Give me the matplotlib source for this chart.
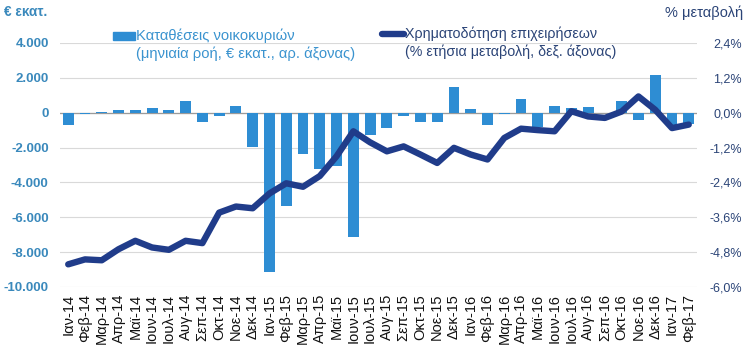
import matplotlib
matplotlib.use("Agg")
import matplotlib.pyplot as plt
from matplotlib.lines import Line2D
from matplotlib.patches import Rectangle
from matplotlib.ticker import FuncFormatter, FixedLocator

plt.rcParams['font.family'] = ['Liberation Sans', 'DejaVu Sans']

months = ["Ιαν-14", "Φεβ-14", "Μαρ-14", "Απρ-14", "Μαϊ-14", "Ιουν-14", "Ιουλ-14", "Αυγ-14",
          "Σεπ-14", "Οκτ-14", "Νοε-14", "Δεκ-14", "Ιαν-15", "Φεβ-15", "Μαρ-15", "Απρ-15",
          "Μαϊ-15", "Ιουν-15", "Ιουλ-15", "Αυγ-15", "Σεπ-15", "Οκτ-15", "Νοε-15", "Δεκ-15",
          "Ιαν-16", "Φεβ-16", "Μαρ-16", "Απρ-16", "Μαϊ-16", "Ιουν-16", "Ιουλ-16", "Αυγ-16",
          "Σεπ-16", "Οκτ-16", "Νοε-16", "Δεκ-16", "Ιαν-17", "Φεβ-17"]

deposits = [-690, -100, 20, 150, 130, 250, 150, 650,
            -550, -200, 400, -1980, -9150, -5380, -2380, -3250,
            -3050, -7150, -1300, -880, -170, -530, -530, 1450,
            210, -700, -50, 780, -840, 360, 270, 300,
            0, 650, -440, 2150, -690, -630]

loans = [-5.22, -5.05, -5.08, -4.70, -4.41, -4.64, -4.72, -4.41,
         -4.49, -3.44, -3.23, -3.29, -2.78, -2.43, -2.55, -2.18,
         -1.50, -0.64, -1.02, -1.33, -1.16, -1.44, -1.73, -1.21,
         -1.44, -1.61, -0.87, -0.55, -0.60, -0.64, 0.05, -0.13,
         -0.18, 0.04, 0.56, 0.10, -0.53, -0.41]

left_ticks = [-10000, -8000, -6000, -4000, -2000, 0, 2000, 4000]
right_ticks = [-6.0, -4.8, -3.6, -2.4, -1.2, 0.0, 1.2, 2.4]

bar_color = "#2E8DD3"
line_color = "#203C8A"
left_txt = "#3A89BC"
right_txt = "#2B4477"

fig = plt.figure(figsize=(7.48, 3.54), dpi=100)
ax = fig.add_axes([0.080, 0.1893, 0.852, 0.6893])
ax2 = ax.twinx()

x = list(range(len(months)))
ax.bar(x, deposits, width=0.65, color=bar_color, zorder=2)
ax.set_ylim(-10000, 4000)
ax.set_xlim(-0.5, len(months) - 0.5)
ax.yaxis.set_major_locator(FixedLocator(left_ticks))
ax.yaxis.set_major_formatter(FuncFormatter(lambda v, p: f"{int(v):,}".replace(",", ".")))
ax.grid(axis='y', color="#D9D9D9", linewidth=0.8, zorder=0)
ax.set_axisbelow(True)
ax.axhline(0, color="#9A9A9A", linewidth=0.9, zorder=1)

ax2.plot(x, loans, color=line_color, linewidth=4.6, solid_joinstyle='round',
         solid_capstyle='round', zorder=3)
ax2.set_ylim(-6.0, 2.4)
ax2.yaxis.set_major_locator(FixedLocator(right_ticks))
ax2.yaxis.set_major_formatter(FuncFormatter(lambda v, p: f"{v:.1f}%".replace(".", ",")))

for a in (ax, ax2):
    for s in a.spines.values():
        s.set_visible(False)
    a.tick_params(length=0)

ax.set_xticks(x)
ax.set_xticklabels(months, rotation=90, fontsize=10.5, color="#111111")
ax.tick_params(axis='x', pad=5)
ax.tick_params(axis='y', labelsize=9.5, labelcolor=left_txt, pad=8)
for t in ax.get_yticklabels():
    t.set_fontweight('bold')
ax2.tick_params(axis='y', labelsize=9, labelcolor=right_txt, pad=32.4)
for t in ax2.get_yticklabels():
    t.set_horizontalalignment('right')

fig.text(0.006, 0.965, "€ εκατ.", fontsize=9.8, fontweight='bold', color=left_txt,
         ha='left', va='center')
fig.text(0.993, 0.965, "% μεταβολή", fontsize=10.5, color=right_txt,
         ha='right', va='center')

# legend (manual)
fig.patches.append(Rectangle((113 / 748, 1 - 40 / 354), 22 / 748, 8 / 354,
                             transform=fig.transFigure, color=bar_color))
fig.text(136 / 748, 1 - 36 / 354, "Καταθέσεις νοικοκυριών", fontsize=10.6,
         color="#3A93CF", ha='left', va='center')
fig.text(136 / 748, 1 - 54 / 354, "(μηνιαία ροή, € εκατ., αρ. άξονας)", fontsize=10.6,
         color="#3A93CF", ha='left', va='center')

fig.lines.append(Line2D([382 / 748, 404 / 748], [1 - 34 / 354, 1 - 34 / 354],
                        transform=fig.transFigure, color=line_color, linewidth=4.6,
                        solid_capstyle='round'))
fig.text(405 / 748, 1 - 34 / 354, "Χρηματοδότηση επιχειρήσεων", fontsize=10.3,
         color=right_txt, ha='left', va='center')
fig.text(405 / 748, 1 - 52 / 354, "(% ετήσια μεταβολή, δεξ. άξονας)", fontsize=10.3,
         color=right_txt, ha='left', va='center')

fig.savefig("out.png", dpi=100)
